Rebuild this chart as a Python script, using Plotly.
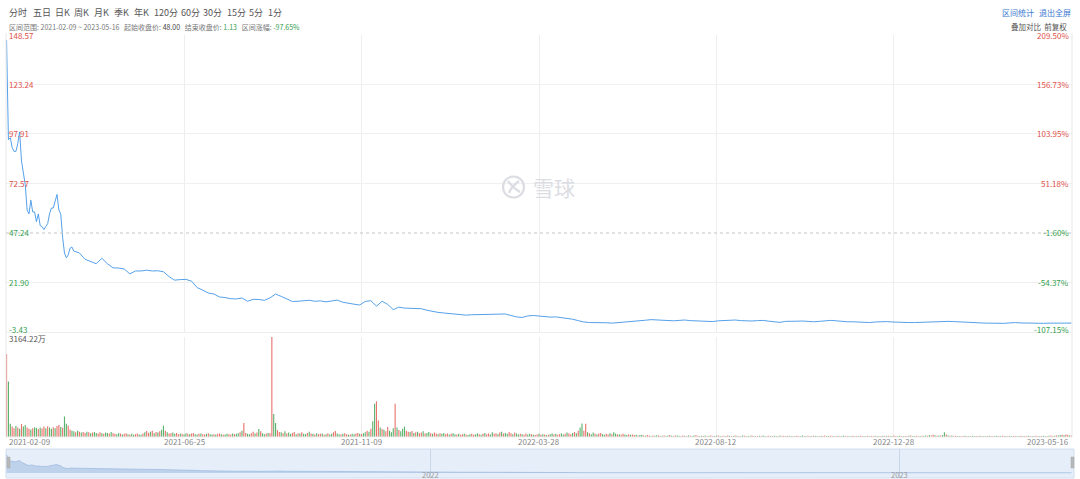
import plotly.graph_objects as go
import pandas as pd

W, H = 1080, 479
FONT = "Noto Sans CJK SC, Noto Sans, sans-serif"

# ---------------- data ----------------
holidays = ["2021-02-15", "2021-04-02", "2021-05-31", "2021-07-05", "2021-09-06", "2021-11-25", "2021-12-24",
            "2022-01-17", "2022-02-21", "2022-04-15", "2022-05-30", "2022-06-20", "2022-07-04", "2022-09-05",
            "2022-11-24", "2022-12-26", "2023-01-02", "2023-01-16", "2023-02-20", "2023-04-07"]
trade_days = [d.strftime("%Y-%m-%d") for d in pd.bdate_range("2021-02-09", "2023-05-16")]
trade_days = [d for d in trade_days if d not in holidays]

# daily closes for the first 36 sessions
price_head = [146, 95, 96, 91, 89, 89, 93, 99, 84, 77,
              72, 59, 57, 64, 58, 58, 53, 57, 51, 50.5,
              49, 50.5, 52, 57, 60, 60, 64, 67, 59, 57,
              45, 37, 34.5, 36, 39.5, 40]
# closes read every 3rd session afterwards
price_tail = [38.0, 37.0, 33.8, 32.6, 31.5, 34.3, 31.5, 29.4, 29.3, 28.8,
              26.3, 27.8, 27.8, 28.2, 27.8, 27.9, 27.4, 24.9, 23.1, 23.4,
              23.5, 22.6, 19.3, 18.0, 16.5, 16.0, 14.5, 14.2, 13.6, 13.5,
              14.0, 12.3, 13.3, 13.2, 12.8, 14.0, 16.0, 14.8, 13.4, 12.2,
              12.3, 12.4, 12.8, 12.3, 12.5, 12.0, 12.4, 12.9, 11.8, 11.2,
              10.8, 10.4, 12.2, 12.6, 9.8, 12.3, 10.7, 8.0, 9.3, 8.8,
              8.6, 8.5, 8.5, 7.7, 7.0, 6.6, 6.3, 6.0, 5.6, 5.2,
              5.2, 5.4, 5.5, 5.7, 5.5, 5.7, 6.0, 5.8, 5.0, 4.3,
              4.0, 4.8, 5.0, 4.7, 4.5, 4.2, 4.3, 4.0, 3.6, 3.1,
              2.4, 1.7, 1.4, 1.4, 1.5, 1.3, 1.1, 1.3, 1.7, 1.9,
              2.1, 2.3, 2.6, 2.9, 2.7, 2.5, 2.5, 2.3, 2.5, 2.7,
              2.4, 2.3, 2.2, 2.0, 1.9, 2.3, 2.4, 2.6, 2.7, 2.4,
              2.2, 2.2, 2.4, 2.5, 2.1, 1.7, 1.5, 2.0, 2.2, 2.1,
              2.2, 2.0, 1.8, 2.0, 2.3, 2.5, 2.3, 2.0, 1.8, 1.8,
              1.7, 1.5, 1.4, 1.7, 1.9, 1.9, 1.7, 1.5, 1.4, 1.4,
              1.4, 1.5, 1.7, 1.9, 1.9, 1.9, 2.0, 1.9, 1.7, 1.5,
              1.4, 1.3, 1.2, 1.1, 1.0, 0.9, 1.0, 1.2, 1.4, 1.2,
              1.1, 1.1, 1.0, 1.0, 1.1, 1.2, 1.2, 1.15, 1.13]
price_dates = trade_days[:36] + trade_days[36::3][:len(price_tail)]
price_values = price_head + price_tail

# daily volume, 万股
volume = [2630, 1760, 420, 330, 280, 350, 300, 260, 410, 330, 380,
          300, 260, 240, 280, 310, 290, 250, 300, 270, 330,
          280, 340, 300, 260, 310, 280, 350, 380, 320, 290,
          650, 420, 360, 240, 200,
          180, 150, 200, 170, 140, 160, 130, 170, 150, 120,
          140, 160, 130, 110, 150, 120, 100, 140, 130, 110,
          160, 120, 100, 90, 130, 110, 80, 100, 120, 90,
          80, 100, 70, 90, 110, 80, 70,
          110, 150, 190, 130, 170, 200, 120, 160, 140, 180, 230, 360,
          200, 150, 110, 120, 140, 100, 130, 90, 110, 100,
          80, 120, 100, 90, 110, 130, 90, 80, 100, 110,
          90, 80, 100, 120, 90, 80,
          90, 80, 100, 110, 90, 70, 80, 100, 90, 80,
          110, 90, 100, 120, 150, 200, 440, 130, 100, 90,
          120, 170, 110, 140, 250, 180, 120, 90, 110, 130,
          120, 3164.22, 730, 440, 220, 160,
          150, 120, 180, 110, 140, 100, 130, 160, 90, 120,
          110, 150, 100, 90, 130, 170, 110, 100, 80, 120,
          90, 100, 110, 70, 90, 120, 80, 100, 150, 190,
          110, 90, 80, 100, 120, 90, 70, 80, 100, 90,
          110, 130, 100, 90, 120, 150, 200, 170, 260, 500,
          1050, 1130, 520, 300,
          250, 230, 180, 320, 200, 150, 280, 1050, 300, 220, 180, 260, 330, 200, 170,
          160, 190, 130, 150, 170, 120, 140, 180, 110, 130,
          160, 120, 100, 140, 110, 90, 120, 100, 130, 90,
          110, 80, 100, 120, 90,
          80, 100, 70, 90, 110, 80, 60, 90, 100, 70,
          80, 120, 90, 70, 100, 130, 90, 110, 80, 150,
          100, 120, 90, 140, 170, 110, 130, 100, 160, 120,
          90, 140, 110, 80, 100, 90, 70, 110, 80, 100,
          90, 70, 60, 80, 100, 70, 90, 80, 60, 70,
          90, 110, 80, 100, 70, 90, 120, 80, 100, 140,
          110, 90, 130, 160, 120, 200,
          300, 430, 200, 420, 150,
          120, 90, 140, 100, 80, 110, 130, 90, 70, 100,
          80, 120, 90, 150, 110, 80, 90, 70, 100, 80,
          60, 90, 70, 80, 60, 70, 50, 60, 70,
          50, 40, 60, 45, 35, 50, 40, 55, 45, 35,
          40, 50, 35, 45, 60, 40, 30, 45, 50, 40,
          35, 45, 40, 30, 50, 40, 35, 45, 55, 40,
          30, 40, 35, 45, 30, 40, 50, 35, 30, 40,
          45, 35, 30, 40, 35, 50, 40, 30, 35, 45,
          40, 30, 35, 45, 40, 35, 30, 40, 45, 35,
          30, 35, 40, 30, 45, 35, 30, 40, 35, 30,
          40, 35, 30, 45, 35, 40, 30, 35, 40, 30,
          35, 30, 40, 35, 30, 45, 35, 30, 40, 35,
          30, 40, 35, 30, 35, 40, 30, 45, 35, 30,
          40, 35, 30, 35, 40, 30, 35, 45, 30, 35,
          30, 35, 40, 30, 35, 30, 40, 35, 30, 35,
          40, 30, 35, 30, 40, 35, 30, 35, 40, 30,
          35, 40, 30, 35, 45, 30, 35, 40, 30, 35,
          30, 35, 40, 45, 35, 30, 40, 35, 30, 40,
          35, 50, 40, 60, 45, 70, 55, 40, 50, 45,
          60, 150, 80, 50, 40, 45, 35, 40, 30, 35,
          30, 35, 40, 30, 35, 30, 40, 35, 30, 35,
          40, 30, 35, 30, 35, 40, 30, 35, 30, 40,
          35, 30, 40, 35, 30, 35, 40, 30, 35, 30,
          30, 35, 40, 30, 35, 30, 40, 35, 30, 35,
          40, 35, 30, 35, 40, 30, 35, 40, 45, 35,
          40, 50, 45, 60, 70, 55, 80, 60, 50, 45]
# 1 = up day, 0 = down day (10 sessions per chunk)
up_down_chunks = ["1001101010", "0110100101", "1010010110", "1001100101", "0110101001",
                  "1010010110", "0101101001", "1001011010", "1010010110", "0110100101",
                  "1001011010", "0101101001", "1010010110", "0110101001", "0110011010",
                  "1001101010", "0101010110", "1010011001", "0110100110", "1001010011",
                  "0101100010", "1000110101", "0110100101", "1010011010", "0101101001",
                  "1001010110", "0110101001", "1010010110", "0101101010", "1001011001",
                  "0110101001", "1010010110", "0110100101", "1001011010", "0101101001",
                  "1010010110", "0110101001", "1001010110", "0101101010", "1010011001",
                  "0110100110", "1001011010", "0101100101", "1010010110", "0110101001",
                  "1001010110", "0101101010", "1010011001", "0110100110", "1001011010",
                  "1001010110", "0110101001", "1010010110", "0101101001", "1001011010",
                  "0110100101", "1010010110", "1"]
up_down = "".join(up_down_chunks)

n = min(len(volume), len(up_down), len(trade_days))
vol_dates = trade_days[:n]
vol_values = volume[:n]
vol_up = up_down[:n]

price_ticks = [148.57, 123.24, 97.91, 72.57, 47.24, 21.90, -3.43]
pct_ticks = ["209.50%", "156.73%", "103.95%", "51.18%", "-1.60%", "-54.37%", "-107.15%"]
x_tick_labels = ["2021-02-09", "2021-06-25", "2021-11-09", "2022-03-28", "2022-08-12", "2022-12-28", "2023-05-16"]
vol_max_label = "3164.22万"
toolbar = ["分时", "五日", "日K", "周K", "月K", "季K", "年K", "120分", "60分", "30分", "15分", "5分", "1分"]
year_labels = ["2022", "2023"]
year_starts = ["2022-01-03", "2023-01-03"]

# ---------------- layout helpers ----------------
def px(x):
    return x / W

def py(y):
    return 1 - y / H

RED = "#e0504a"
GREEN = "#35a04f"
GREY = "#888888"
BLUE_LINE = "#55a1ea"

XL, XR = 6, 1072
x_dom = [px(XL), px(XR)]
price_dom = [py(332), py(35)]
vol_dom = [py(437), py(337)]
nav_dom = [py(478), py(449)]

fig = go.Figure()

fig.add_trace(go.Scatter(x=price_dates, y=price_values, mode="lines",
                         line=dict(color=BLUE_LINE, width=1), xaxis="x", yaxis="y",
                         hoverinfo="skip"))

bar_colors = ["rgba(228,92,84,0.85)" if u == "1" else "rgba(62,165,82,0.85)" for u in vol_up]
fig.add_trace(go.Bar(x=vol_dates, y=vol_values, marker=dict(color=bar_colors, line=dict(width=0)),
                     xaxis="x2", yaxis="y2", hoverinfo="skip"))

fig.add_trace(go.Scatter(x=price_dates, y=price_values, mode="lines", fill="tozeroy",
                         fillcolor="rgba(165,192,226,0.6)", line=dict(color="rgba(150,180,220,0.8)", width=0.8),
                         xaxis="x3", yaxis="y3", hoverinfo="skip"))

grid_ticks = x_tick_labels[1:-1]
common_x = dict(type="category", categoryorder="array", categoryarray=trade_days,
                range=[-0.3, len(trade_days) - 0.7], domain=x_dom, showticklabels=False,
                showline=False, zeroline=False, fixedrange=True)

fig.update_layout(
    width=W, height=H, margin=dict(l=0, r=0, t=0, b=0),
    paper_bgcolor="white", plot_bgcolor="white", showlegend=False,
    bargap=0.4, font=dict(family=FONT, size=8, color=GREY),
    xaxis=dict(common_x, anchor="y", tickvals=grid_ticks, showgrid=True, gridcolor="#eeeeee", gridwidth=1),
    yaxis=dict(domain=price_dom, range=[price_ticks[-1], price_ticks[0]], tickvals=[t for i, t in enumerate(price_ticks) if i not in (0, 4, 6)],
               showgrid=True, gridcolor="#f0f0f0", showticklabels=False, zeroline=False, showline=False),
    xaxis2=dict(common_x, anchor="y2", tickvals=grid_ticks, showgrid=True, gridcolor="#eeeeee", gridwidth=1),
    yaxis2=dict(domain=vol_dom, range=[0, 3164.22], showgrid=False, showticklabels=False, zeroline=False),
    xaxis3=dict(common_x, anchor="y3", tickvals=year_starts, showgrid=True, gridcolor="#c9d6e6", gridwidth=1),
    yaxis3=dict(domain=nav_dom, range=[-40, 190], showgrid=False, showticklabels=False, zeroline=False),
)

shapes = []
# navigator background
shapes.append(dict(type="rect", xref="paper", yref="paper", x0=px(XL), x1=px(XR + 2), y0=py(478), y1=py(449),
                   fillcolor="#e5eef9", line=dict(color="#d2deee", width=1), layer="below"))
# navigator handles
for hx in (XL + 1, XR - 1):
    shapes.append(dict(type="rect", xref="paper", yref="paper", x0=px(hx), x1=px(hx + 3), y0=py(468), y1=py(457),
                       fillcolor="#b8b8b8", line=dict(color="#a8a8a8", width=0.5)))
# borders
for bx in (XL, XR):
    shapes.append(dict(type="line", xref="paper", yref="paper", x0=px(bx), x1=px(bx), y0=py(437), y1=py(33),
                       line=dict(color="#e8e8e8", width=1)))
for by in (332.5, 437):
    shapes.append(dict(type="line", xref="paper", yref="paper", x0=px(XL), x1=px(XR), y0=py(by), y1=py(by),
                       line=dict(color="#eeeeee", width=1)))
# dashed base line
shapes.append(dict(type="line", xref="paper", yref="y", x0=px(XL), x1=px(XR), y0=price_ticks[4], y1=price_ticks[4],
                   line=dict(color="#c4c4c4", width=1, dash="dot")))
# watermark logo
shapes.append(dict(type="circle", xref="paper", yref="paper", x0=px(503), x1=px(524), y0=py(197.5), y1=py(176.5),
                   line=dict(color="#dcdde3", width=2.2)))
shapes.append(dict(type="path", xref="paper", yref="paper",
                   path=f"M {px(508)},{py(181)} Q {px(514)},{py(189)} {px(520)},{py(192)} "
                        f"M {px(519)},{py(181)} Q {px(511)},{py(187)} {px(509)},{py(193)}",
                   line=dict(color="#dcdde3", width=2.2)))
fig.update_layout(shapes=shapes)

ann = []
def text(x, y, s, color=GREY, size=8, xanchor="left", yanchor="middle", **kw):
    d = dict(x=x, y=y, xref="paper", yref="paper", text=s, showarrow=False, xanchor=xanchor, yanchor=yanchor,
             font=dict(family=FONT, size=size, color=color))
    d.update(kw)
    ann.append(d)

# toolbar
tool_x = [7, 31, 53, 72, 92, 112, 132, 152, 179, 201, 225, 247, 266]
for lbl, tx in zip(toolbar, tool_x):
    text(px(tx), py(12), lbl, color="#555555", size=9)

text(px(1000), py(12), "区间统计", color="#3b78d0", size=8)
text(px(1037), py(12), "退出全屏", color="#3b78d0", size=8)
text(px(1069), py(26.5), "叠加对比  前复权", color="#555555", size=7.5, xanchor="right")

info = (f"区间范围: {price_dates[0]} ~ {price_dates[-1]}&nbsp;&nbsp;&nbsp;起始收盘价: <span style='color:#444'>48.00</span>"
        f"&nbsp;&nbsp;&nbsp;结束收盘价: <span style='color:{GREEN}'>{price_values[-1]:.2f}</span>"
        f"&nbsp;&nbsp;&nbsp;区间涨幅: <span style='color:{GREEN}'>-97.65%</span>")
text(px(7), py(26.5), info, color="#777777", size=7)

# price / percentage labels
for i, (pv, pc) in enumerate(zip(price_ticks, pct_ticks)):
    col = RED if i < 4 else GREEN
    ys = -1 if i == 0 else (3 if i == 6 else 0)
    ann.append(dict(x=px(7), y=pv, xref="paper", yref="y", text=f"{pv:.2f}", showarrow=False,
                    xanchor="left", yanchor="middle", yshift=ys, font=dict(family=FONT, size=8, color=col)))
    ann.append(dict(x=px(1071), y=pv, xref="paper", yref="y", text=pc, showarrow=False,
                    xanchor="right", yanchor="middle", yshift=ys, font=dict(family=FONT, size=8, color=col)))

text(px(7), py(338), vol_max_label, color="#555555", size=8)

# x labels
for i, lbl in enumerate(x_tick_labels):
    xa = "left" if i == 0 else ("right" if i == len(x_tick_labels) - 1 else "center")
    ann.append(dict(x=trade_days.index(lbl), y=py(441.5), xref="x2", yref="paper", text=lbl, showarrow=False,
                    xanchor=xa, yanchor="middle", font=dict(family=FONT, size=8, color=GREY)))

# navigator year labels
for lbl, d in zip(year_labels, year_starts):
    ann.append(dict(x=trade_days.index(d), y=py(474), xref="x3", yref="paper", text=lbl, showarrow=False,
                    xanchor="center", yanchor="middle", font=dict(family=FONT, size=7.5, color="#9a9a9a")))

# watermark text
text(px(531), py(187), "雪球", color="#dcdde3", size=21)

fig.update_layout(annotations=ann)
fig.write_html("out.html", config={"displayModeBar": False},
               post_script="document.body.style.margin='0';document.body.style.overflow='hidden';")
